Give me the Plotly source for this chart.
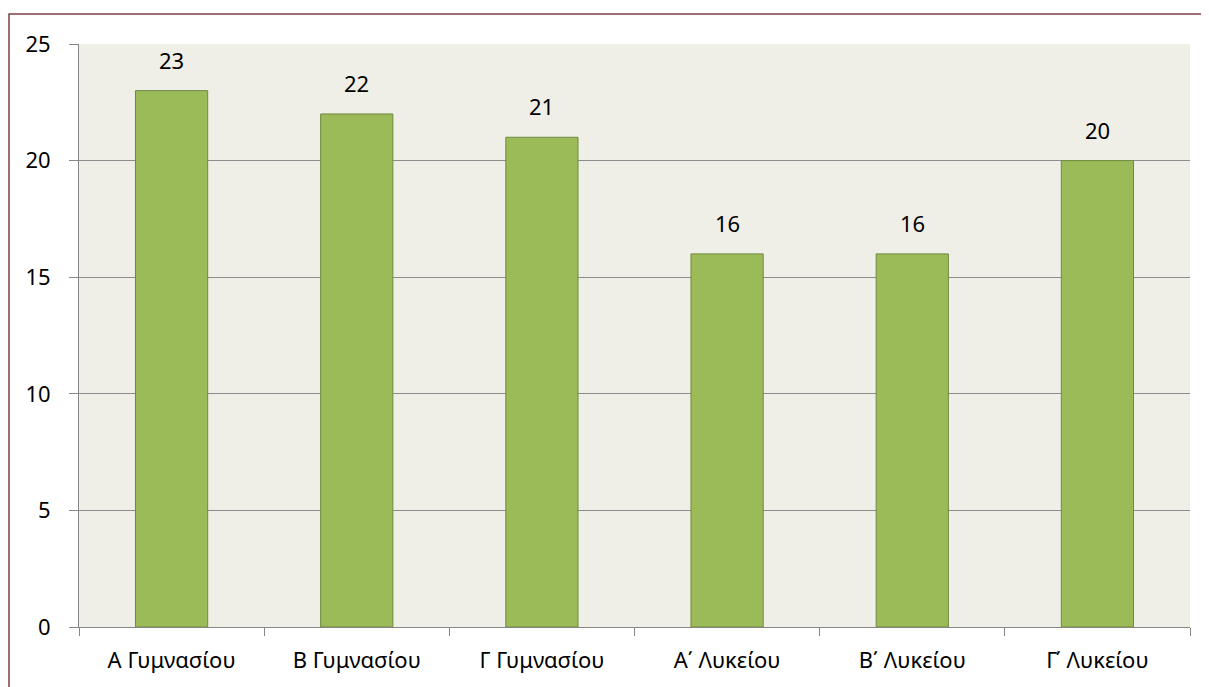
import plotly.graph_objects as go

categories = ["Α Γυμνασίου", "Β Γυμνασίου", "Γ Γυμνασίου", "Α΄ Λυκείου", "Β΄ Λυκείου", "Γ΄ Λυκείου"]
values = [23, 22, 21, 16, 16, 20]

fig = go.Figure()
fig.add_trace(go.Bar(
    x=categories, y=values,
    marker=dict(color="#9BBB59", line=dict(color="#71893F", width=1)),
    width=0.39,
    cliponaxis=False,
))

for c, v in zip(categories, values):
    fig.add_annotation(x=c, y=v, text=str(v), showarrow=False,
                       yanchor="bottom", yshift=14,
                       font=dict(size=22, color="#000000"))

OFF = 8  # page body margin
W, H = 1209 - OFF, 687 - OFF
L, R, T, B = 79 - OFF, 19, 44 - OFF, 60
pw, ph = W - L - R, H - T - B

fig.add_shape(type="rect", xref="paper", yref="paper",
              x0=(9 - OFF - L) / pw, x1=(W + 5 - L) / pw,
              y0=-(B + 20) / ph, y1=(T + ph - (14 - OFF)) / ph,
              line=dict(color="#7F3F47", width=1.5), layer="below")

fig.update_layout(
    width=W, height=H,
    margin=dict(l=L, r=R, t=T, b=B),
    paper_bgcolor="#FFFFFF",
    plot_bgcolor="#EFEFE7",
    font=dict(family="Noto Sans", size=22, color="#000000"),
    showlegend=False,
    bargap=0.61,
    xaxis=dict(
        showgrid=False, showline=True, linecolor="#868686", linewidth=1,
        ticks="outside", ticklen=8, tickcolor="#868686",
        tickson="boundaries", tickfont=dict(size=22),
        ticklabelstandoff=14,
    ),
    yaxis=dict(
        range=[0, 25], dtick=5, showgrid=True, gridcolor="#8C8C8C", gridwidth=1,
        showline=True, linecolor="#868686", linewidth=1,
        ticks="outside", ticklen=9, tickcolor="#868686",
        tickfont=dict(size=22), zeroline=False,
        ticklabelstandoff=14,
    ),
)

fig.write_html("out.html")
